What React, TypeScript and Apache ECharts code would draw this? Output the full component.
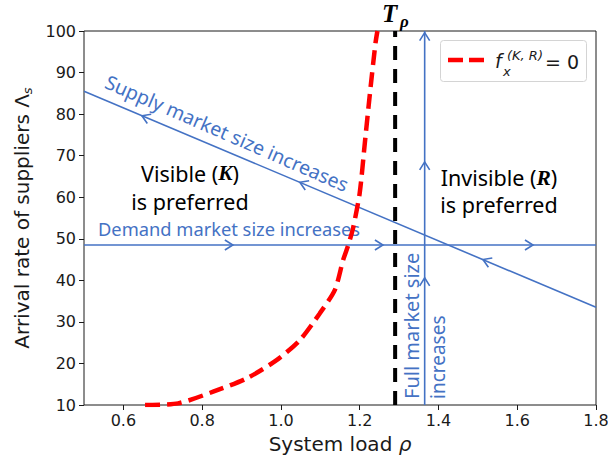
import React, { useEffect, useRef } from "react";
import * as echarts from "echarts";

// ---- data ----
const xTicks = [0.6, 0.8, 1.0, 1.2, 1.4, 1.6, 1.8];
const boundaryX = [0.655, 0.739, 0.828, 0.913, 0.989, 1.048, 1.099, 1.137, 1.158, 1.171, 1.183, 1.2, 1.213, 1.226, 1.24, 1.245];
const boundaryY = [10, 10.4, 13.2, 16.4, 20.8, 25.6, 32.1, 37.7, 44.9, 48.5, 52.5, 61, 73, 85, 97, 100];
const supplyX = [0.5, 1.8];
const supplyY = [85.5, 33.5];
const demandX = [0.5, 1.8];
const demandY = [48.5, 48.5];
const fullX = [1.365, 1.365];
const fullY = [10, 100];
const tRhoX = [1.29, 1.29];
const tRhoY = [10, 100];
const demandArrowX = [0.878, 1.259, 1.64];
const demandArrowY = [48.5, 48.5, 48.5];
const supplyArrowX = [0.647, 1.048, 1.513];
const supplyArrowY = [79.6, 63.6, 45.0];
const fullArrowX = [1.365, 1.365, 1.365];
const fullArrowY = [99.6, 68.5, 40.6];

const BLUE = "#4472C4";
const ANN = "'Noto Sans', 'Open Sans', sans-serif";
const MPL = "'DejaVu Sans', sans-serif";
const SERIF = "'Liberation Serif', 'DejaVu Serif', serif";
const INK = "#1a1a1a";

export default function App() {
  const ref = useRef<HTMLDivElement>(null);
  useEffect(() => {
    if (!ref.current) return;
    const chart = echarts.init(ref.current, undefined, { renderer: "svg" });

    const arrows: number[][] = [];
    demandArrowX.forEach((x, i) => arrows.push([x, demandArrowY[i], 1, 0]));
    supplyArrowX.forEach((x, i) => arrows.push([x, supplyArrowY[i], -(supplyX[1] - supplyX[0]), -(supplyY[1] - supplyY[0])]));
    fullArrowX.forEach((x, i) => arrows.push([x, fullArrowY[i], 0, 10]));

    const option: any = {
      animation: false,
      grid: { left: 84, top: 31, right: 12, bottom: 59, show: true, borderColor: INK, borderWidth: 1, outerBoundsMode: "none", containLabel: false },
      xAxis: {
        type: "value",
        min: 0.5,
        max: 1.8,
        splitLine: { show: false },
        axisLine: { show: false },
        axisTick: { show: true, inside: false, length: 5, lineStyle: { color: INK }, customValues: xTicks },
        axisLabel: { customValues: xTicks, formatter: (v: number) => v.toFixed(1), fontFamily: MPL, fontSize: 16, color: INK, margin: 7 },
        name: "System load {i|ρ}",
        nameLocation: "middle",
        nameGap: 29,
        nameTextStyle: { fontFamily: MPL, fontSize: 20, color: INK, rich: { i: { fontFamily: MPL, fontStyle: "italic", fontSize: 20, color: INK } } },
      },
      yAxis: {
        type: "value",
        min: 10,
        max: 100,
        interval: 10,
        splitLine: { show: false },
        axisLine: { show: false },
        axisTick: { show: true, inside: false, length: 5, lineStyle: { color: INK } },
        axisLabel: { fontFamily: MPL, fontSize: 16, color: INK, margin: 8 },
        name: "Arrival rate of suppliers Λ{s|s}",
        nameLocation: "middle",
        nameGap: 50,
        nameTextStyle: {
          fontFamily: MPL, fontSize: 20, color: INK, lineHeight: 24,
          rich: { s: { fontFamily: MPL, fontStyle: "italic", fontSize: 13, color: INK, verticalAlign: "bottom", lineHeight: 16 } },
        },
      },
      series: [
        {
          type: "line", data: supplyX.map((x, i) => [x, supplyY[i]]), showSymbol: false, symbol: "none",
          lineStyle: { color: BLUE, width: 1.6 }, z: 3,
        },
        {
          type: "line", data: demandX.map((x, i) => [x, demandY[i]]), showSymbol: false, symbol: "none",
          lineStyle: { color: BLUE, width: 1.6 }, z: 3,
        },
        {
          type: "line", data: fullX.map((x, i) => [x, fullY[i]]), showSymbol: false, symbol: "none",
          lineStyle: { color: BLUE, width: 1.6 }, z: 3,
        },
        {
          type: "line", data: tRhoX.map((x, i) => [x, tRhoY[i]]), showSymbol: false, symbol: "none",
          lineStyle: { color: "#000", width: 4, type: [14, 9] }, z: 4,
        },
        {
          type: "line", data: boundaryX.map((x, i) => [x, boundaryY[i]]), showSymbol: false, symbol: "none",
          smooth: 0.25,
          lineStyle: { color: "#ff0000", width: 4.5, type: [15, 7] }, z: 5,
        },
        {
          type: "custom",
          data: arrows,
          encode: { x: 0, y: 1 },
          z: 6,
          renderItem: (_p: any, api: any) => {
            const x = api.value(0), y = api.value(1), dx = api.value(2), dy = api.value(3);
            const p = api.coord([x, y]);
            const q = api.coord([x + dx * 0.1, y + dy * 0.1]);
            let ux = q[0] - p[0], uy = q[1] - p[1];
            const len = Math.hypot(ux, uy) || 1;
            ux /= len; uy /= len;
            const L = 8, W = 5;
            const nx = -uy, ny = ux;
            return {
              type: "polyline",
              shape: { points: [[p[0] - L * ux + W * nx, p[1] - L * uy + W * ny], [p[0], p[1]], [p[0] - L * ux - W * nx, p[1] - L * uy - W * ny]] },
              style: { stroke: BLUE, lineWidth: 1.6, fill: "none" },
            };
          },
        },
      ],
      graphic: [
        // T_rho
        { type: "text", x: 382, y: 13, style: { text: "T", font: `italic bold 25px ${SERIF}`, fill: "#000", verticalAlign: "middle", align: "left" } },
        { type: "text", x: 400, y: 21, style: { text: "ρ", font: `italic bold 17px ${SERIF}`, fill: "#000", verticalAlign: "middle", align: "left" } },
        // Supply text
        {
          type: "text", x: 227, y: 133, rotation: -0.41,
          style: { text: "Supply market size increases", font: `19.5px ${ANN}`, fill: BLUE, align: "center", verticalAlign: "middle" },
        },
        // Demand text
        { type: "text", x: 98, y: 228, style: { text: "Demand market size increases", font: `18.3px ${ANN}`, fill: BLUE, align: "left", verticalAlign: "middle" } },
        // Full market size
        { type: "text", x: 411, y: 399, rotation: Math.PI / 2, style: { text: "Full market size", font: `20px ${ANN}`, fill: BLUE, align: "left", verticalAlign: "middle" } },
        { type: "text", x: 438, y: 399, rotation: Math.PI / 2, style: { text: "increases", font: `19px ${ANN}`, fill: BLUE, align: "left", verticalAlign: "middle" } },
        // Visible
        {
          type: "text", x: 190, y: 187,
          style: {
            text: "{n|Visible (}{k|K}{n|)}\n{n|is preferred}", align: "center", verticalAlign: "middle",
            rich: {
              n: { font: `21.5px ${ANN}`, fill: "#000", lineHeight: 28 },
              k: { font: `italic bold 21.5px ${SERIF}`, fill: "#000", lineHeight: 28 },
            },
          },
        },
        {
          type: "text", x: 499, y: 191,
          style: {
            text: "{n|Invisible (}{k|R}{n|)}\n{n|is preferred}", align: "center", verticalAlign: "middle",
            rich: {
              n: { font: `21.5px ${ANN}`, fill: "#000", lineHeight: 27 },
              k: { font: `italic bold 21.5px ${SERIF}`, fill: "#000", lineHeight: 27 },
            },
          },
        },
        // Legend
        { type: "rect", shape: { x: 440.5, y: 40.5, width: 146, height: 41, r: 3 }, style: { fill: "rgba(255,255,255,0.85)", stroke: "#d4d4d4", lineWidth: 1 }, z: 10 },
        { type: "line", shape: { x1: 448, y1: 60, x2: 486, y2: 60 }, style: { stroke: "#ff0000", lineWidth: 4.5, lineDash: [15, 6] }, z: 11 },
        { type: "text", x: 495, y: 61, style: { text: "f", font: `italic 19px ${MPL}`, fill: INK, verticalAlign: "middle" }, z: 11 },
        { type: "text", x: 507, y: 55, style: { text: "(K, R)", font: `italic 13px ${MPL}`, fill: INK, verticalAlign: "middle" }, z: 11 },
        { type: "text", x: 503, y: 71, style: { text: "x", font: `italic 13px ${MPL}`, fill: INK, verticalAlign: "middle" }, z: 11 },
        { type: "text", x: 545, y: 62, style: { text: "= 0", font: `19px ${MPL}`, fill: INK, verticalAlign: "middle" }, z: 11 },
      ],
    };
    chart.setOption(option);
    return () => chart.dispose();
  }, []);
  return <div ref={ref} style={{ width: 608, height: 464, position: "absolute", left: 0, top: 0 }} />;
}
